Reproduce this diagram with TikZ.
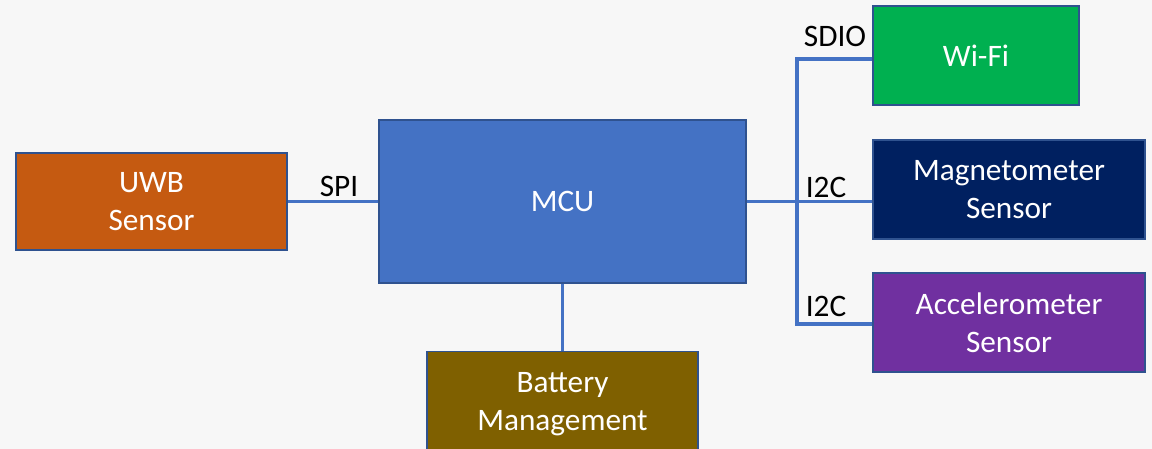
\documentclass[tikz,border=0pt]{standalone}
\usepackage{fontspec}
\setmainfont{Carlito}
\usetikzlibrary{positioning}

\definecolor{bgcol}{HTML}{F7F7F7}
\definecolor{edgecol}{HTML}{2F528F}
\definecolor{buscol}{HTML}{4472C4}
\definecolor{uwbcol}{HTML}{C55A11}
\definecolor{mcucol}{HTML}{4472C4}
\definecolor{wificol}{HTML}{00B050}
\definecolor{magcol}{HTML}{002060}
\definecolor{acccol}{HTML}{7030A0}
\definecolor{batcol}{HTML}{7F6000}

\begin{document}
\begin{tikzpicture}[
      x=0.02cm, y=-0.02cm,
      font=\fontsize{17.8}{21.5}\selectfont,
      blk/.style={draw=edgecol, line width=0.8pt, text=white, align=center, inner sep=0pt},
      bus/.style={draw=buscol, line width=2pt},
      lbl/.style={text=black, inner sep=0pt}
    ]
      \fill[bgcol] (0,0) rectangle (1152,449);
      \useasboundingbox (0,0) rectangle (1152,449);

      \node[blk, fill=uwbcol, minimum width=5.42cm, minimum height=1.94cm] (uwb) at (151.5,201.5) {UWB\\Sensor};
      \node[blk, fill=mcucol, minimum width=7.34cm, minimum height=3.26cm] (mcu) at (562.5,201.5) {MCU};
      \node[blk, fill=wificol, minimum width=4.12cm, minimum height=1.98cm] (wifi) at (976,55.5) {Wi-Fi};
      \node[blk, fill=magcol, minimum width=5.44cm, minimum height=1.98cm] (mag) at (1009,189.5) {Magnetometer\\Sensor};
      \node[blk, fill=acccol, minimum width=5.44cm, minimum height=1.98cm] (acc) at (1009,322.5) {Accelerometer\\Sensor};
      \node[blk, fill=batcol, minimum width=5.42cm, minimum height=2.1cm] (bat) at (562.5,404) {Battery\\Management};

      % bus corners
      \coordinate (bustop) at (797,59);
      \coordinate (busbot) at (797,324);

      \draw[bus] (uwb) -- (mcu);
      \draw[bus] (mcu.east) -- (mcu.east -| mag.west);
      \draw[bus] (wifi.west |- bustop) -- (bustop) -- (busbot) -- (acc.west |- busbot);
      \draw[bus] (mcu) -- (bat);

      \node[lbl] (spi) at (339,186) {SPI};
      \node[lbl] (sdio) at (835,36) {SDIO};
      \node[lbl] (i2ca) at (826,187) {I2C};
      \node[lbl] (i2cb) at (826,306) {I2C};
    \end{tikzpicture}
\end{document}
